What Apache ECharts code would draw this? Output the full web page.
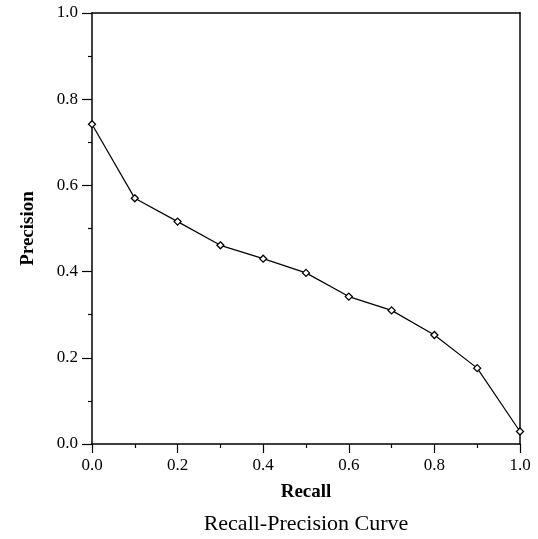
<!DOCTYPE html>
<html>
<head>
<meta charset="utf-8">
<script src="https://cdn.jsdelivr.net/npm/echarts@6/dist/echarts.min.js"></script>
<style>
html,body{margin:0;padding:0;background:#fff;}
#chart{width:538px;height:539px;}
</style>
</head>
<body>
<div id="chart"></div>
<script>
var recall = [0.0, 0.1, 0.2, 0.3, 0.4, 0.5, 0.6, 0.7, 0.8, 0.9, 1.0];
var precision = [0.742, 0.570, 0.516, 0.461, 0.430, 0.397, 0.342, 0.310, 0.253, 0.176, 0.029];
var xTickLabels = ['0.0', '0.2', '0.4', '0.6', '0.8', '1.0'];
var yTickLabels = ['0.0', '0.2', '0.4', '0.6', '0.8', '1.0'];

var FONT = '"Liberation Serif", "Times New Roman", serif';
var points = recall.map(function (r, i) { return [r, precision[i]]; });

var chart = echarts.init(document.getElementById('chart'), null, {renderer: 'canvas'});
chart.setOption({
  backgroundColor: '#fff',
  animation: false,
  title: {
    text: 'Recall-Precision Curve',
    left: 306, textAlign: 'center',
    top: 513,
    padding: 0,
    textStyle: {fontFamily: FONT, fontSize: 22, fontWeight: 'normal', color: '#000'}
  },
  grid: {left: 92, right: 18, top: 13, bottom: 95, containLabel: false},
  xAxis: [{
    type: 'value', min: 0, max: 1, interval: 0.2,
    name: 'Recall', nameLocation: 'middle', nameGap: 39,
    nameTextStyle: {fontFamily: FONT, fontSize: 19, fontWeight: 'bold', color: '#000'},
    axisLine: {show: true, onZero: false, lineStyle: {color: '#000', width: 1.5}},
    axisTick: {show: true, inside: false, length: 9, lineStyle: {color: '#000', width: 1.2}},
    minorTick: {show: true, splitNumber: 2, length: 4, lineStyle: {color: '#000', width: 1.2}},
    splitLine: {show: false},
    axisLabel: {
      margin: 13, fontFamily: FONT, fontSize: 17, color: '#000',
      formatter: function (v) { return xTickLabels[Math.round(v / 0.2)]; }
    }
  }, {
    type: 'value', min: 0, max: 1, position: 'top',
    axisLine: {show: true, onZero: false, lineStyle: {color: '#000', width: 1.5}},
    axisTick: {show: false}, axisLabel: {show: false}, splitLine: {show: false}
  }],
  yAxis: [{
    type: 'value', min: 0, max: 1, interval: 0.2,
    name: 'Precision', nameLocation: 'middle', nameGap: 54, nameRotate: 90,
    nameTextStyle: {fontFamily: FONT, fontSize: 19, fontWeight: 'bold', color: '#000'},
    axisLine: {show: true, onZero: false, lineStyle: {color: '#000', width: 1.5}},
    axisTick: {show: true, inside: false, length: 10, lineStyle: {color: '#000', width: 1.2}},
    minorTick: {show: true, splitNumber: 2, length: 4, lineStyle: {color: '#000', width: 1.2}},
    splitLine: {show: false},
    axisLabel: {
      margin: 14, fontFamily: FONT, fontSize: 17, color: '#000',
      formatter: function (v) { return yTickLabels[Math.round(v / 0.2)]; }
    }
  }, {
    type: 'value', min: 0, max: 1, position: 'right',
    axisLine: {show: true, onZero: false, lineStyle: {color: '#444', width: 2}},
    axisTick: {show: false}, axisLabel: {show: false}, splitLine: {show: false}
  }],
  series: [{
    type: 'line',
    data: points,
    xAxisIndex: 0, yAxisIndex: 0,
    clip: false,
    z: 10,
    symbol: 'diamond',
    symbolSize: 7,
    showSymbol: true,
    lineStyle: {color: '#000', width: 1.2},
    itemStyle: {color: '#fff', borderColor: '#000', borderWidth: 1.3}
  }]
});
</script>
</body>
</html>
